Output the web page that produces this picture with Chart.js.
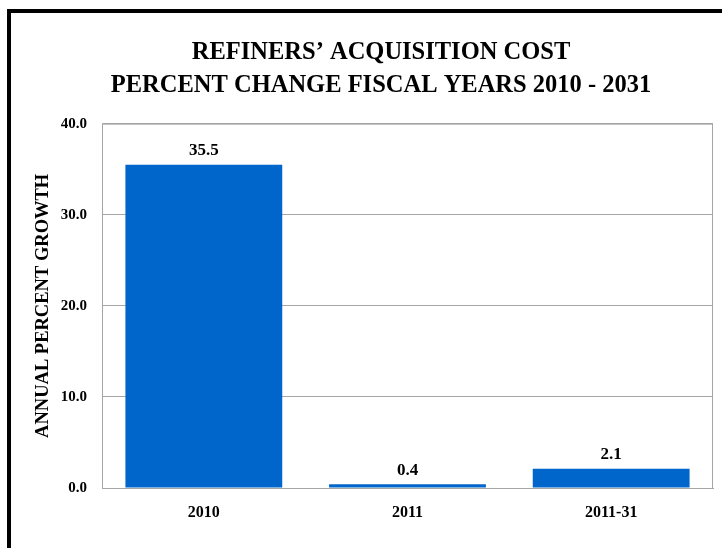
<!DOCTYPE html>
<html>
<head>
<meta charset="utf-8">
<script src="https://cdn.jsdelivr.net/npm/chart.js@4"></script>
<style>
  html, body { margin: 0; padding: 0; background: #fff; }
  #frame {
    position: absolute; left: 7px; top: 9px; width: 800px; height: 600px;
    border-left: 4px solid #000; border-top: 4px solid #000;
  }
  #wrap { position: absolute; left: 0; top: 0; width: 722px; height: 548px; }
</style>
</head>
<body>
<div id="frame"></div>
<div id="wrap"><canvas id="chart1"></canvas></div>
<script>
var categories = ['2010', '2011', '2011-31'];
var growth = [35.5, 0.4, 2.1];
var titleLines = ['REFINERS\u2019 ACQUISITION COST', 'PERCENT CHANGE FISCAL YEARS 2010 - 2031'];
var yTitle = 'ANNUAL PERCENT GROWTH';

var serif = "'Liberation Serif', 'Times New Roman', serif";

// grey box round the plot area
var plotFrame = {
  id: 'plotFrame',
  beforeDatasetsDraw: function (chart) {
    var a = chart.chartArea, ctx = chart.ctx;
    ctx.save();
    ctx.strokeStyle = '#a6a6a6';
    ctx.lineWidth = 1;
    ctx.strokeRect(a.left + 0.5, a.top + 0.5, a.right - a.left - 1, a.bottom - a.top);
    ctx.restore();
  }
};

// value written above each bar
var barValues = {
  id: 'barValues',
  afterDatasetsDraw: function (chart) {
    var ctx = chart.ctx;
    var meta = chart.getDatasetMeta(0);
    ctx.save();
    ctx.fillStyle = '#000';
    ctx.font = 'bold 17px ' + serif;
    ctx.textAlign = 'center';
    ctx.textBaseline = 'middle';
    meta.data.forEach(function (bar, i) {
      ctx.fillText(growth[i].toFixed(1), bar.x, bar.y - 14);
    });
    ctx.restore();
  }
};

// nudge the title block so it sits a little right of centre
var titleShift = {
  id: 'titleShift',
  afterLayout: function (chart) {
    if (chart.titleBlock) {
      chart.titleBlock.left = 40;
      chart.titleBlock.right = 722;
    }
  }
};

var growthChart = new Chart(document.getElementById('chart1'), {
  type: 'bar',
  data: {
    labels: categories,
    datasets: [{
      data: growth,
      backgroundColor: '#0066CC',
      borderWidth: 0,
      categoryPercentage: 1,
      barPercentage: 0.77
    }]
  },
  options: {
    responsive: true,
    maintainAspectRatio: false,
    animation: false,
    layout: { padding: { left: 0, right: 9, top: 0, bottom: 0 } },
    plugins: {
      legend: { display: false },
      tooltip: { enabled: false },
      title: {
        display: true,
        text: titleLines,
        color: '#000',
        font: { family: serif, size: 24.5, weight: 'bold', lineHeight: 1.34 },
        padding: { top: 36, bottom: 22 }
      }
    },
    scales: {
      x: {
        grid: { display: false },
        border: { display: true, color: '#a6a6a6' },
        ticks: {
          color: '#000',
          padding: 7,
          font: { family: serif, size: 16, weight: 'bold' }
        },
        afterFit: function (axis) { axis.height = 60; }
      },
      y: {
        min: 0,
        max: 40,
        grid: { color: '#a6a6a6', drawTicks: false },
        border: { display: true, color: '#c4cad6' },
        ticks: {
          stepSize: 10,
          padding: 15,
          color: '#000',
          font: { family: serif, size: 15, weight: 'bold' },
          callback: function (v) { return v.toFixed(1); }
        },
        title: {
          display: true,
          text: yTitle,
          color: '#000',
          font: { family: serif, size: 18.5, weight: 'bold' },
          padding: { top: 32, bottom: 6 }
        },
        afterFit: function (axis) { axis.width = 102; }
      }
    }
  },
  plugins: [plotFrame, barValues, titleShift]
});
</script>
</body>
</html>
